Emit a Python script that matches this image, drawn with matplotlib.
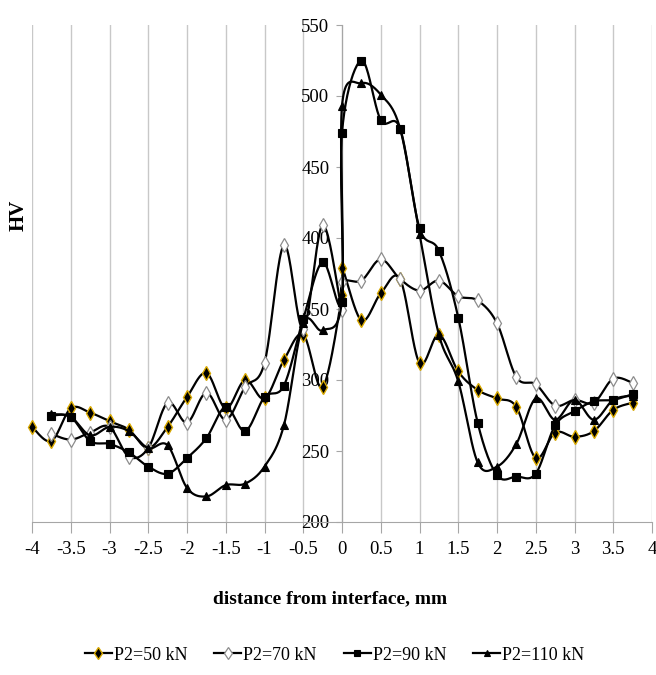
import numpy as np
import matplotlib
matplotlib.use("Agg")
import matplotlib.pyplot as plt
from matplotlib.lines import Line2D

plt.rcParams['font.family'] = ['Liberation Serif', 'DejaVu Serif']
plt.rcParams['axes.unicode_minus'] = False

# distance from interface (mm); 0 appears twice: left and right side of the interface
dist_50 = [-4, -3.75, -3.5, -3.25, -3, -2.75, -2.5, -2.25, -2, -1.75, -1.5, -1.25, -1, -0.75, -0.5, -0.25,
           0, 0, 0.25, 0.5, 0.75, 1, 1.25, 1.5, 1.75, 2, 2.25, 2.5, 2.75, 3, 3.25, 3.5, 3.75]
dist = [-3.75, -3.5, -3.25, -3, -2.75, -2.5, -2.25, -2, -1.75, -1.5, -1.25, -1, -0.75, -0.5, -0.25,
        0, 0, 0.25, 0.5, 0.75, 1, 1.25, 1.5, 1.75, 2, 2.25, 2.5, 2.75, 3, 3.25, 3.5, 3.75]

hv_50 = [267, 257, 280, 277, 271, 265, 252, 267, 288, 305, 280, 300, 287, 314, 332, 295,
         360, 379, 342, 361, 371, 312, 332, 306, 293, 287, 281, 245, 263, 260, 264, 279, 284]
hv_70 = [262, 258, 263, 267, 246, 252, 284, 270, 291, 272, 295, 312, 395, 336, 409,
         349, 369, 370, 385, 371, 363, 370, 359, 356, 340, 302, 297, 282, 286, 284, 301, 298]
hv_90 = [275, 274, 257, 255, 249, 239, 234, 245, 259, 281, 264, 288, 296, 343, 383,
         355, 474, 525, 483, 477, 407, 391, 344, 270, 233, 232, 234, 268, 278, 285, 286, 290]
hv_110 = [276, 274, 261, 267, 264, 252, 254, 224, 218, 226, 227, 239, 268, 340, 335,
          357, 493, 509, 501, 477, 403, 332, 299, 242, 239, 255, 287, 272, 286, 272, 286, 289]

x_ticks = [-4, -3.5, -3, -2.5, -2, -1.5, -1, -0.5, 0, 0.5, 1, 1.5, 2, 2.5, 3, 3.5, 4]
y_ticks = [200, 250, 300, 350, 400, 450, 500, 550]

series = [
    ("P2=50 kN", dist_50, hv_50, dict(marker='d', markersize=7.5, markerfacecolor='black',
                                       markeredgecolor='#d9a900', markeredgewidth=1.0)),
    ("P2=70 kN", dist, hv_70, dict(marker='d', markersize=7, markerfacecolor='white',
                                    markeredgecolor='#8c8c8c', markeredgewidth=0.9)),
    ("P2=90 kN", dist, hv_90, dict(marker='s', markersize=5.5, markerfacecolor='black',
                                    markeredgecolor='black', markeredgewidth=0.8)),
    ("P2=110 kN", dist, hv_110, dict(marker='^', markersize=5.5, markerfacecolor='black',
                                      markeredgecolor='black', markeredgewidth=0.8)),
]

fig = plt.figure(figsize=(6.56, 6.75), dpi=100)
ax = fig.add_axes([32 / 656, 1 - 522 / 675, 620 / 656, 497 / 675])
ax.set_xlim(-4, 4)
ax.set_ylim(200, 550)

for side in ('top', 'right'):
    ax.spines[side].set_visible(False)
ax.spines['left'].set_position(('data', 0))
ax.spines['left'].set_color('#a6a6a6')
ax.spines['bottom'].set_color('#a6a6a6')
ax.spines['left'].set_zorder(1)

ax.set_xticks(x_ticks)
ax.set_xticklabels([f"{v:g}" for v in x_ticks])
ax.set_yticks(y_ticks)
ax.set_yticklabels([str(v) for v in y_ticks])
ax.xaxis.grid(True, color='#c8c8c8', linewidth=1.0)
ax.set_axisbelow(True)
ax.tick_params(axis='x', direction='out', length=8, color='#a6a6a6', labelsize=13.5, pad=6)
ax.tick_params(axis='y', direction='out', length=4, color='#a6a6a6', labelsize=13.5, pad=5)


def smooth_curve(ax, xs, ys, n=24):
    """Bezier smoothing through the points, computed in display space."""
    pts = ax.transData.transform(np.column_stack([xs, ys]))
    ext = np.vstack([pts[0], pts, pts[-1]])
    out = []
    t = np.linspace(0, 1, n)[:, None]
    for i in range(len(pts) - 1):
        p0, p1, p2, p3 = ext[i], ext[i + 1], ext[i + 2], ext[i + 3]
        c1 = p1 + (p2 - p0) / 6
        c2 = p2 - (p3 - p1) / 6
        seg = (1 - t) ** 3 * p1 + 3 * (1 - t) ** 2 * t * c1 + 3 * (1 - t) * t ** 2 * c2 + t ** 3 * p2
        out.append(seg if i == 0 else seg[1:])
    return ax.transData.inverted().transform(np.vstack(out))


handles = []
for k, (label, xs, ys, mstyle) in enumerate(series):
    curve = smooth_curve(ax, xs, ys)
    ax.plot(curve[:, 0], curve[:, 1], color='black', linewidth=1.6, zorder=3 + k, clip_on=False)
    ax.plot(xs, ys, linestyle='none', zorder=3 + k, clip_on=False, **mstyle)
    handles.append(Line2D([0], [0], color='black', linewidth=1.6, **mstyle))

fig.text(19 / 656, 1 - 215 / 675, 'HV', rotation=90, fontsize=15, fontweight='bold',
         ha='center', va='center')
fig.text(330 / 656, 1 - 599 / 675, 'distance from interface, mm', fontsize=14,
         fontweight='bold', ha='center', va='center')

fig.legend(handles, [s[0] for s in series], loc='center', bbox_to_anchor=(0.51, 1 - 655 / 675),
           ncol=4, frameon=False, fontsize=13, handlelength=1.5, handletextpad=0.1,
           columnspacing=1.5, markerscale=0.85)

fig.savefig('out.png', dpi=100)
